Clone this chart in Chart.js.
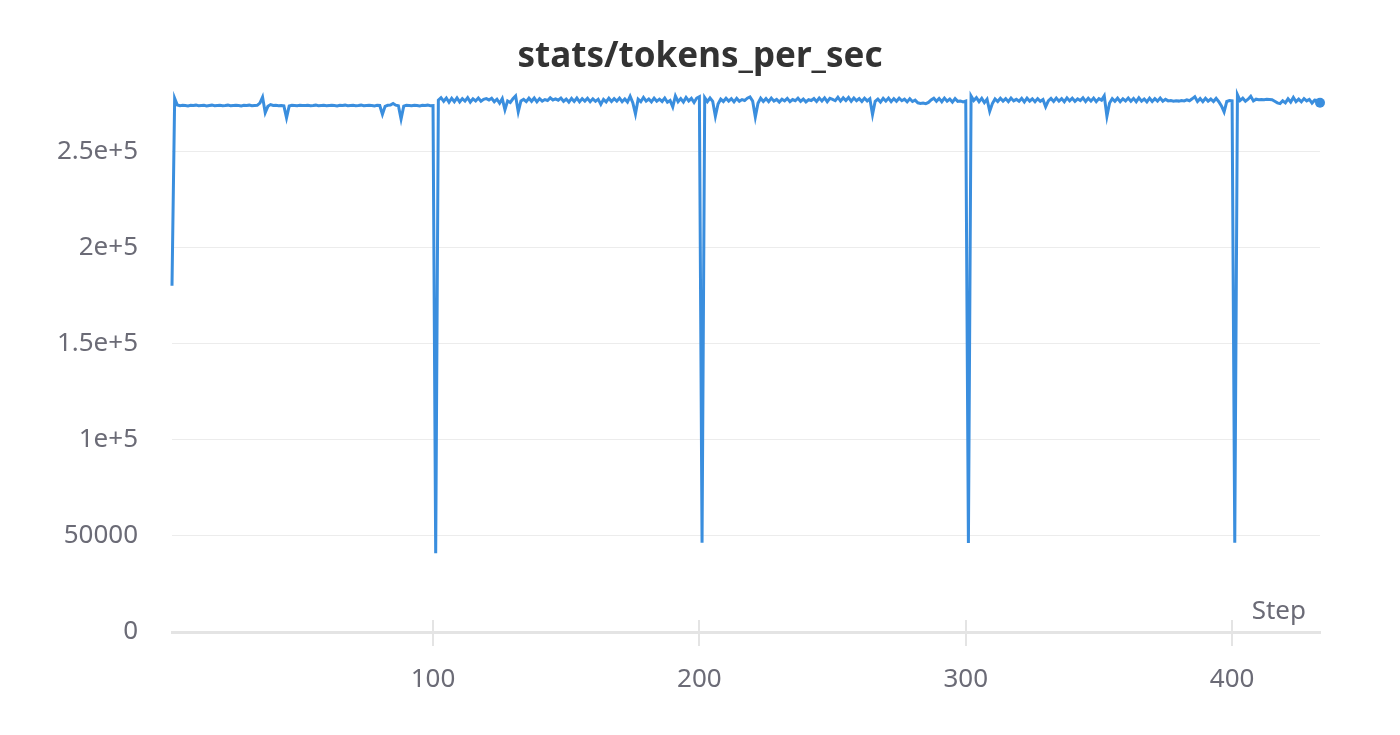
<!DOCTYPE html>
<html lang="en">
<head>
<meta charset="UTF-8">
<title>stats/tokens_per_sec</title>
<script src="https://cdn.jsdelivr.net/npm/chart.js@4"></script>
<style>
    html, body { margin: 0; padding: 0; background: #fff; }
    .wrap { width: 1400px; height: 735px; position: relative; }
</style>
</head>
<body>
<div class="wrap"><canvas id="chart"></canvas></div>
<script>
// steps run 2..433, one value per step
const firstStep = 2;
const lastStep = 433;

// steps 2-100
const tokensSeg1 = [
    180200, 277800, 274300, 273900, 274100, 274000, 273800, 274100, 274000, 274200,
    273900, 274000, 274100, 273800, 274000, 274200, 273900, 274000, 274100, 273900,
    274000, 274200, 273900, 274000, 274100, 274000, 273800, 274100, 274000, 274200,
    273900, 274000, 274100, 275300, 278400, 270300, 273600, 274500, 274000, 274100,
    273900, 274000, 273800, 267600, 273800, 274100, 274000, 273900, 274100, 274000,
    274000, 274100, 273900, 274000, 274200, 273900, 274000, 274100, 273900, 274000,
    274100, 274000, 273800, 274100, 274000, 274200, 273900, 274000, 274100, 273900,
    274000, 274200, 273900, 274000, 274100, 274000, 273800, 274100, 274000, 269400,
    273600, 274100, 274300, 275100, 274200, 273900, 267000, 273700, 274100, 274000,
    273900, 274100, 274000, 273800, 274100, 274000, 274200, 273900, 274000
];
// steps 101-200
const tokensSeg2 = [
    41000, 276800, 278100, 276200, 277900, 275700, 277800, 276000, 278000, 275900,
    277600, 276300, 278100, 275800, 277500, 276400, 277900, 276200, 277200, 277600,
    276900, 277800, 276000, 277300, 275200, 277600, 271800, 276400, 275600, 277500,
    279000, 270700, 276400, 277200, 276000, 277800, 276200, 277900, 275900, 277600,
    276300, 277100, 276600, 278000, 276900, 277500, 276800, 277900, 276200, 277400,
    275800, 277700, 276100, 277900, 275900, 277600, 276300, 277800, 276000, 277500,
    276200, 277300, 274600, 277200, 275900, 277800, 276100, 277600, 276300, 277900,
    276000, 277400, 275800, 278800, 275500, 269600, 277300, 276000, 278200, 276300,
    277400, 275900, 277800, 276200, 277300, 276100, 277900, 275700, 276600, 273300,
    279000, 276000, 277600, 275800, 278200, 276400, 277700, 275600, 277900, 278600
];
// steps 201-300
const tokensSeg3 = [
    46400, 278100, 276000, 277900, 276200, 268400, 274800, 277300, 276100, 277800,
    276300, 277600, 275900, 277700, 276200, 277100, 276600, 277800, 278500, 276300,
    268000, 275200, 277800, 276100, 277600, 276000, 277900, 276300, 277200, 275800,
    277300, 276400, 277700, 276000, 277100, 276500, 277800, 276200, 277400, 275900,
    277000, 276600, 277600, 276100, 277900, 276400, 278000, 276000, 277800, 277200,
    276500, 278300, 276300, 278000, 276600, 278200, 276200, 277900, 276500, 277600,
    276100, 277800, 276400, 277500, 269300, 276200, 277400, 275800, 277700, 276300,
    277900, 276000, 277600, 276200, 277800, 276500, 277300, 275900, 277500, 276100,
    276800, 275400, 275100, 275300, 275000, 275600, 276900, 277800, 276200, 277700,
    276000, 277900, 276300, 277400, 275800, 277600, 276200, 276400, 275900, 276300
];
// steps 301-400
const tokensSeg4 = [
    46300, 279000, 276600, 278100, 276000, 277700, 275500, 277300, 271000, 275000,
    277400, 276100, 277800, 276300, 277600, 276000, 277900, 276400, 277200, 276200,
    277700, 275900, 277800, 276300, 277500, 276000, 277600, 276200, 277100, 273300,
    276400, 277700, 276100, 277900, 276300, 277600, 276000, 278000, 276400, 277800,
    276200, 277500, 276600, 278000, 276100, 277800, 276300, 277900, 276000, 277600,
    276800, 279000, 268400, 275300, 277600, 276200, 277800, 276000, 277500, 276400,
    277900, 276200, 277700, 276000, 278000, 276300, 277400, 275900, 277800, 276100,
    277600, 276300, 277900, 276200, 277200, 276400, 276600, 276200, 276500, 276300,
    276600, 276400, 277000, 276500, 277500, 278600, 276100, 277600, 276000, 277800,
    276300, 277400, 276100, 277700, 276000, 273800, 270700, 276100, 276600, 276400
];
// steps 401-433
const tokensSeg5 = [
    46400, 279700, 276600, 277800, 276200, 277300, 278800, 276400, 277300, 277000,
    277100, 277000, 277200, 277100, 277000, 276200, 275400, 275000, 276500, 275400,
    277500, 275800, 278200, 276000, 277300, 275900, 277600, 276400, 277200, 275300,
    276800, 276600, 275400
];

const xTickValues = [100, 200, 300, 400];
const yTickValues = [0, 50000, 100000, 150000, 200000, 250000];
const yTickLabels = ['0', '50000', '1e+5', '1.5e+5', '2e+5', '2.5e+5'];

const tokensPerSec = [].concat(tokensSeg1, tokensSeg2, tokensSeg3, tokensSeg4, tokensSeg5);
const points = tokensPerSec.map((v, i) => ({ x: firstStep + i, y: v }));

const lineColor = '#3a8ede';
const tickColor = '#6b6b76';
const fontFamily = '"Noto Sans", "Open Sans", sans-serif';

// tick marks crossing the x axis + the "Step" label
const axisExtras = {
    id: 'axisExtras',
    beforeDatasetsDraw(chart) {
        const { ctx, chartArea, scales } = chart;
        ctx.save();
        ctx.strokeStyle = '#e4e4e4';
        ctx.lineWidth = 2;
        xTickValues.forEach(v => {
            const px = Math.round(scales.x.getPixelForValue(v));
            ctx.beginPath();
            ctx.moveTo(px, chartArea.bottom - 12);
            ctx.lineTo(px, chartArea.bottom + 14);
            ctx.stroke();
        });
        ctx.restore();
    },
    afterDraw(chart) {
        const { ctx, chartArea } = chart;
        ctx.save();
        ctx.fillStyle = tickColor;
        ctx.font = '26px ' + fontFamily;
        ctx.textAlign = 'right';
        ctx.textBaseline = 'alphabetic';
        ctx.fillText('Step', chartArea.right - 14, chartArea.bottom - 13);
        ctx.restore();
    }
};

new Chart(document.getElementById('chart'), {
    type: 'line',
    data: {
        datasets: [{
            label: 'stats/tokens_per_sec',
            data: points,
            borderColor: lineColor,
            backgroundColor: lineColor,
            borderWidth: 3,
            tension: 0,
            clip: false,
            pointRadius: ctx => ctx.dataIndex === tokensPerSec.length - 1 ? 5 : 0,
            pointBorderWidth: 0,
            pointBackgroundColor: lineColor
        }]
    },
    options: {
        responsive: true,
        maintainAspectRatio: false,
        animation: false,
        devicePixelRatio: 1,
        layout: { padding: 0 },
        plugins: {
            legend: { display: false },
            tooltip: { enabled: false },
            title: {
                display: true,
                text: 'stats/tokens_per_sec',
                color: '#333',
                font: { family: fontFamily, size: 35, weight: 'bold', lineHeight: 1.2 },
                padding: { top: 36, bottom: 16 }
            }
        },
        scales: {
            x: {
                type: 'linear',
                min: firstStep,
                max: lastStep,
                afterFit: s => { s.height = 103; },
                afterBuildTicks: s => { s.ticks = xTickValues.map(v => ({ value: v })); },
                grid: { display: false },
                border: { display: true, color: '#e4e4e4', width: 3 },
                ticks: {
                    color: tickColor,
                    padding: 24,
                    maxRotation: 0,
                    font: { family: fontFamily, size: 26 }
                }
            },
            y: {
                min: 0,
                max: 280000,
                afterFit: s => { s.width = 172; },
                afterBuildTicks: s => { s.ticks = yTickValues.map(v => ({ value: v })); },
                grid: { color: '#ececec', lineWidth: 1, drawTicks: false },
                border: { display: false },
                ticks: {
                    color: tickColor,
                    padding: 34,
                    font: { family: fontFamily, size: 26 },
                    callback: v => yTickLabels[yTickValues.indexOf(v)]
                }
            },
            // empty right-hand axis: only reserves the right margin
            spacer: {
                position: 'right',
                min: 0,
                max: 1,
                afterFit: s => { s.width = 80; },
                grid: { display: false, drawOnChartArea: false },
                border: { display: false },
                ticks: { display: false }
            }
        }
    },
    plugins: [axisExtras]
});
</script>
</body>
</html>
